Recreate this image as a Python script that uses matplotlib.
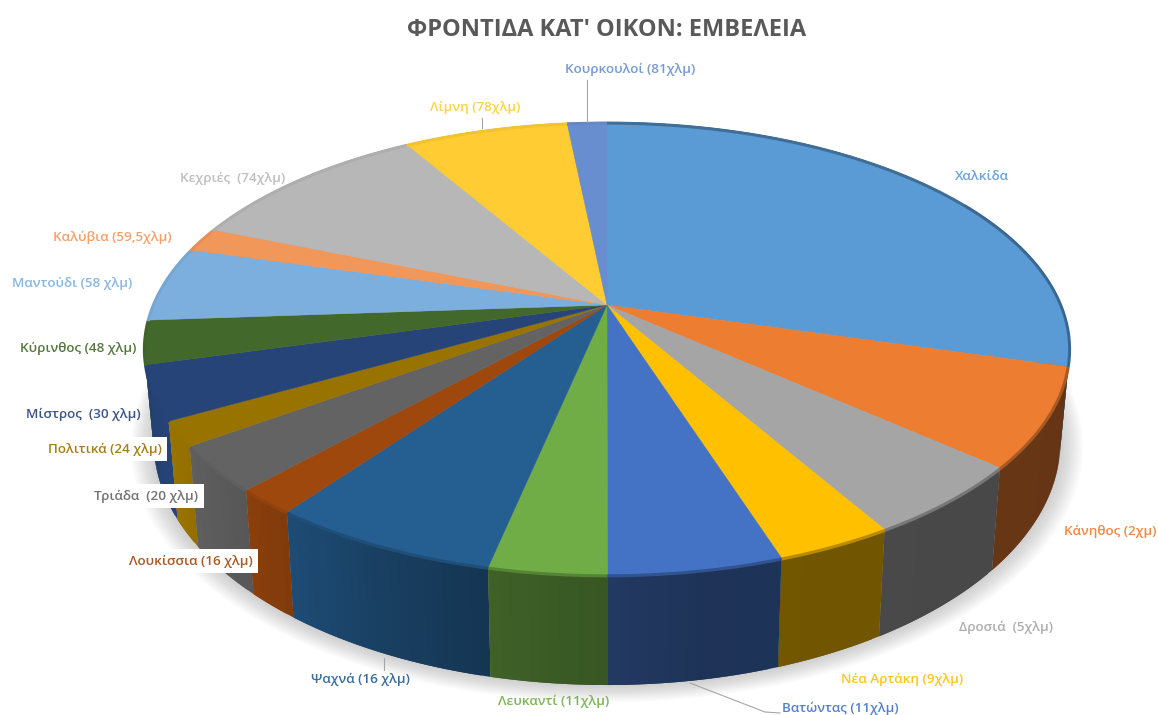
import matplotlib
matplotlib.use("Agg")
import matplotlib.pyplot as plt
import numpy as np

plt.rcParams['font.family'] = ['Open Sans', 'DejaVu Sans']

# slices, clockwise from the top of the pie (share of the pie in %)
labels = ["Χαλκίδα", "Κάνηθος (2χμ)", "Δροσιά  (5χλμ)", "Νέα Αρτάκη (9χλμ)", "Βατώντας (11χλμ)",
          "Λευκαντί (11χλμ)", "Ψαχνά (16 χλμ)", "Λουκίσσια (16 χλμ)", "Τριάδα  (20 χλμ)",
          "Πολιτικά (24 χλμ)", "Μίστρος  (30 χλμ)", "Κύρινθος (48 χλμ)", "Μαντούδι (58 χλμ)",
          "Καλύβια (59,5χλμ)", "Κεχριές  (74χλμ)", "Λίμνη (78χλμ)", "Κουρκουλοί (81χλμ)"]
shares = [29.33, 7.0, 5.14, 3.44, 5.08, 3.42, 6.75, 1.81, 3.25, 1.75, 3.83, 3.11, 5.36, 1.75,
          10.39, 6.92, 1.67]
colors = ["#5B9BD5", "#ED7D31", "#A5A5A5", "#FFC000", "#4472C4", "#70AD47", "#255E91", "#9E480E",
          "#636363", "#997300", "#264478", "#43682B", "#7CAFDD", "#F1975A", "#B7B7B7", "#FFCD33",
          "#698ED0"]

# where the labels sit, in pixels
label_pos = [(982, 177), (1110, 531), (1006, 627), (902, 679), (840, 708), (554, 701), (360, 679),
             (191, 561), (146, 496), (105, 449), (83, 414), (78, 348), (72, 283), (112, 237),
             (233, 178), (475, 107), (630, 69)]
boxed = ["Πολιτικά (24 χλμ)", "Τριάδα  (20 χλμ)", "Λουκίσσια (16 χλμ)"]

# side wall brightness by angle (left side catches the light)
shade_angle = [100, 170, 190, 205, 220, 240, 262]
shade_value = [0.42, 0.45, 0.55, 0.68, 0.85, 1.0, 0.9]

# perspective of the pie top
CX, CY = 607, 305
A, B, K = 454, 218, 0.192


def top_xy(theta):
    """Point of the top rim/surface for angle theta (deg, clockwise from top)."""
    t = np.radians(theta)
    w = 1 + K * np.cos(t)
    return CX + A * np.sin(t) / w, CY - B * np.cos(t) / w


def bottom_xy(theta):
    """Same point on the bottom rim of the pie."""
    x, y = top_xy(theta)
    return CX + (x - CX) * 0.98, CY + 90 + (y - CY) * 1.075


fig = plt.figure(figsize=(11.58, 7.15), dpi=100)
ax = fig.add_axes([0, 0, 1, 1])
ax.set_xlim(0, 1158)
ax.set_ylim(715, 0)
ax.axis("off")

# soft shadow under the pie
rim = np.linspace(0, 360, 361)
bx, by = bottom_xy(rim)
for grow in np.linspace(1.05, 1.0, 14):
    ax.fill(CX + (bx - CX) * grow, 345 + (by - 345) * grow, color="#606060", alpha=0.025, lw=0, zorder=1)

edges = np.concatenate([[0], np.cumsum(shares)]) / np.sum(shares) * 360

# side walls, back to front, cut in overlapping strips so the shading runs along the rim
mids = (edges[:-1] + edges[1:]) / 2
for i in np.argsort(-np.abs(mids - 180)):
    base = np.array(matplotlib.colors.to_rgb(colors[i]))
    steps = np.r_[np.arange(edges[i], edges[i + 1], 1.0), edges[i + 1]]
    for t0, t1 in zip(steps[:-1], steps[1:]):
        t_end = min(t1 + 1.0, edges[i + 1])
        x0, y0 = top_xy(np.array([t0, t_end]))
        x1, y1 = bottom_xy(np.array([t_end, t0]))
        f = np.interp((t0 + t1) / 2, shade_angle, shade_value)
        ax.fill(np.r_[x0, x1], np.r_[y0, y1], color=base * f, lw=0, zorder=2)

# top surface
for i, c in enumerate(colors):
    theta = np.r_[np.arange(edges[i], edges[i + 1], 0.5), edges[i + 1]]
    x, y = top_xy(theta)
    ax.fill(np.r_[CX, x], np.r_[CY, y], color=c, lw=0.3, zorder=3)
    # bevel along the rim
    f = np.interp(mids[i], shade_angle, shade_value)
    bevel = np.array(matplotlib.colors.to_rgb(c)) * (1 + f) / 2
    ax.plot(x, y + 1, color=bevel, lw=2.2, zorder=4, solid_capstyle="butt")

# dark edge on the back right of the rim
x, y = top_xy(np.linspace(60, 105, 50))
ax.plot(x, y, color="#2F5F8F", lw=1.2, alpha=0.6, zorder=4)

# leader lines
for lx, ly in [((587, 587), (80, 122)), ((482, 482), (118, 128)), ((384, 384), (658, 670)),
               ((690, 765, 780), (683, 712, 713))]:
    ax.plot(lx, ly, color="#A6A6A6", lw=0.8, zorder=5)

for name, c, (px, py) in zip(labels, colors, label_pos):
    box = None
    if name in boxed:
        box = dict(facecolor="white", edgecolor="none", pad=4)
    ax.text(px, py, name, color=c, fontsize=9.7, fontweight="semibold", ha="center", va="center",
            zorder=6, bbox=box, alpha=0.9)

ax.text(607, 30, "ΦΡΟΝΤΙΔΑ ΚΑΤ' ΟΙΚΟΝ: ΕΜΒΕΛΕΙΑ", color="#595959", fontsize=17, fontweight="bold",
        ha="center", va="center")

fig.savefig("out.png", dpi=100)
